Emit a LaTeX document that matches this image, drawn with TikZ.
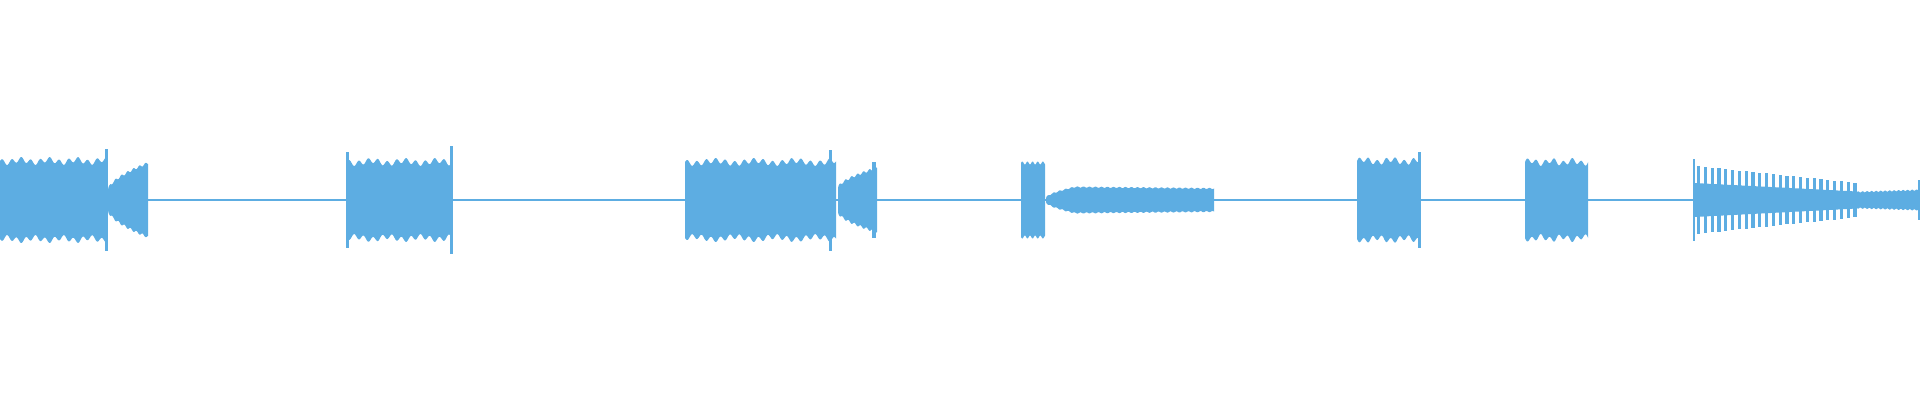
\documentclass[tikz,border=0pt]{standalone}
\definecolor{wav}{HTML}{5DADE2}
\tikzset{wave/.style={fill=wav,draw=none}}
\newcommand{\blk}[4]{% from, to, amplitude expression (uses \x)
  \fill[wave] plot[domain=#1:#2,samples=#4] (\x,{200-(#3)}) -- plot[domain=#2:#1,samples=#4] (\x,{200+(#3)}) -- cycle;}
\begin{document}
\begin{tikzpicture}[x=1pt,y=-1pt]
\useasboundingbox (0,0) rectangle (1920,400);
% centre line
\draw[wav,line width=1.6pt] (0,200) -- (1920,200);
% block 1
\blk{0}{106}{39+2.5*sin(\x*38)-1.5*sin(\x*13)}{220}
\fill[wave] (105,149) rectangle (107.5,251);
\blk{108}{148}{10+27*((\x-108)/40)^0.6+1.2*sin((\x-108)*60)}{80}
% block 2
\blk{347}{452}{38+2.5*sin((\x-347)*38)-1.5*sin((\x-347)*11)}{220}
\fill[wave] (450,146) rectangle (453,254);
\fill[wave] (346,152) rectangle (349,248);
% block 3
\blk{685}{836}{38+2.5*sin((\x-685)*38)-1.5*sin((\x-685)*9)}{300}
\fill[wave] (829,150) rectangle (832,251);
\blk{838}{877}{12+20*((\x-838)/39)^0.6+1.2*sin((\x-838)*60)}{80}
\fill[wave] (872,162) rectangle (876,238);
% block 4
\blk{1021}{1045}{37+1.5*sin((\x-1021)*70)}{60}
\blk{1046}{1214}{(\x<1075 ? 2+11*((\x-1046)/29)^0.6 : 13-1.5*(\x-1075)/140) + 0.6*sin((\x-1046)*60)}{200}
% block 5
\blk{1357}{1420}{39+2.5*sin((\x-1357)*40)+1.5*sin((\x-1357)*13)}{150}
\fill[wave] (1418,152) rectangle (1420.5,248);
% block 6
\blk{1525}{1588}{38+2.5*sin((\x-1525)*40)+1.5*sin((\x-1525)*17)}{150}
% block 7 decaying comb
\blk{1694}{1857}{0.5*(34-17*(\x-1694)/163)}{120}
\foreach \i in {0,...,23}{
  \pgfmathsetmacro{\xx}{1697+\i*6.8}
  \pgfmathsetmacro{\aa}{34-17*(\xx-1694)/163}
  \fill[wave] (\xx,200-\aa) rectangle (\xx+3.2,200+\aa);
}
\fill[wave] (1693,159) rectangle (1695,241);
\blk{1857}{1920}{8+2*(\x-1857)/63+0.6*sin((\x-1857)*80)}{120}
\fill[wave] (1917.5,180) rectangle (1920,220);
\end{tikzpicture}
\end{document}
